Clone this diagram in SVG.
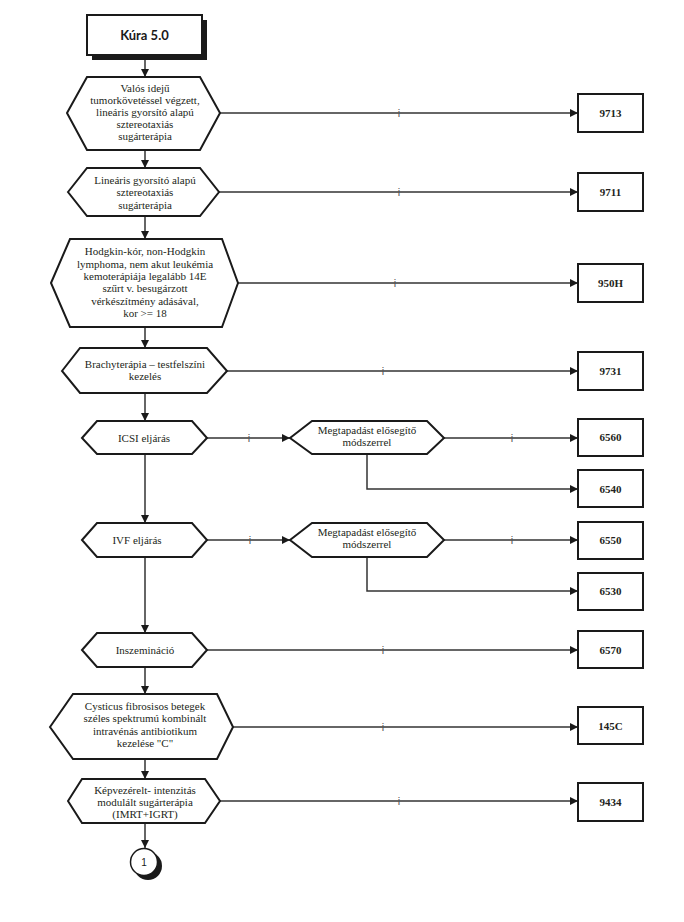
<svg xmlns="http://www.w3.org/2000/svg" width="684" height="922" viewBox="0 0 684 922">
<defs>
<marker id="arr" viewBox="0 0 10 10" refX="10" refY="5" markerWidth="9" markerHeight="8" markerUnits="userSpaceOnUse" orient="auto">
<path d="M0,0 L10,5 L0,10 z" fill="#1a1a1a"/>
</marker>
</defs>
<style>
.hex{fill:#fff;stroke:#1a1a1a;stroke-width:2;stroke-linejoin:miter}
.box{fill:#fff;stroke:#1a1a1a;stroke-width:2}
.t{font-family:"Liberation Serif","Times New Roman",serif;font-size:11px;fill:#231f20;text-anchor:middle}
.b{font-family:"Liberation Serif","Times New Roman",serif;font-size:11px;font-weight:bold;fill:#231f20;text-anchor:middle}
.c{fill:none;stroke:#333;stroke-width:1.5}
.i{font-family:"Liberation Sans",Arial,sans-serif;font-size:11px;fill:#555;text-anchor:middle}
</style>
<rect width="684" height="922" fill="#fff"/>

<g id="connectors">
<path class="c" d="M145,55 V77" marker-end="url(#arr)"/>
<path class="c" d="M145,150 V168" marker-end="url(#arr)"/>
<path class="c" d="M145,216 V239" marker-end="url(#arr)"/>
<path class="c" d="M145,327 V348" marker-end="url(#arr)"/>
<path class="c" d="M145,393 V421" marker-end="url(#arr)"/>
<path class="c" d="M145,454 V523" marker-end="url(#arr)"/>
<path class="c" d="M145,557 V633" marker-end="url(#arr)"/>
<path class="c" d="M145,667 V694" marker-end="url(#arr)"/>
<path class="c" d="M145,759 V779" marker-end="url(#arr)"/>
<path class="c" d="M145,823 V848" marker-end="url(#arr)"/>

<path class="c" d="M220,113 H578" marker-end="url(#arr)"/>
<path class="c" d="M219,192 H578" marker-end="url(#arr)"/>
<path class="c" d="M238,283 H578" marker-end="url(#arr)"/>
<path class="c" d="M227,371 H578" marker-end="url(#arr)"/>
<path class="c" d="M207,438 H290" marker-end="url(#arr)"/>
<path class="c" d="M444,438 H578" marker-end="url(#arr)"/>
<path class="c" d="M367,454 V489 H578" marker-end="url(#arr)"/>
<path class="c" d="M207,540 H290" marker-end="url(#arr)"/>
<path class="c" d="M444,540 H578" marker-end="url(#arr)"/>
<path class="c" d="M367,557 V591 H578" marker-end="url(#arr)"/>
<path class="c" d="M207,650 H578" marker-end="url(#arr)"/>
<path class="c" d="M233,727 H578" marker-end="url(#arr)"/>
<path class="c" d="M220,801 H578" marker-end="url(#arr)"/>

<text class="i" x="399" y="117">i</text>
<text class="i" x="399" y="196">i</text>
<text class="i" x="395" y="287">i</text>
<text class="i" x="383" y="375">i</text>
<text class="i" x="249" y="442">i</text>
<text class="i" x="512" y="442">i</text>
<text class="i" x="250" y="544">i</text>
<text class="i" x="512" y="544">i</text>
<text class="i" x="383" y="654">i</text>
<text class="i" x="383" y="731">i</text>
<text class="i" x="399" y="805">i</text>
</g>

<g id="start">
<rect x="92" y="20" width="115" height="40" fill="#1a1a1a"/>
<rect x="87" y="15" width="115" height="40" fill="#fff" stroke="#1a1a1a" stroke-width="2"/>
<text x="144.5" y="40" font-family="Lato,'Open Sans',sans-serif" font-size="13" font-weight="bold" text-anchor="middle" fill="#1a1a1a">Kúra 5.0</text>
</g>

<g id="n1">
<path class="hex" d="M67,113 L87,77 L200,77 L220,113 L200,150 L87,150 Z"/>
<text class="t" x="145" y="92">Valós idejű</text>
<text class="t" x="145" y="104">tumorkövetéssel végzett,</text>
<text class="t" x="145" y="116">lineáris gyorsító alapú</text>
<text class="t" x="145" y="128">sztereotaxiás</text>
<text class="t" x="145" y="140">sugárterápia</text>
</g>
<g id="n2">
<path class="hex" d="M68,192 L87,168 L200,168 L219,192 L200,216 L87,216 Z"/>
<text class="t" x="145" y="184">Lineáris gyorsító alapú</text>
<text class="t" x="145" y="196">sztereotaxiás</text>
<text class="t" x="145" y="209">sugárterápia</text>
</g>
<g id="n3">
<path class="hex" d="M51,283 L70,239 L222,239 L238,283 L222,327 L70,327 Z"/>
<text class="t" x="145" y="255">Hodgkin-kór, non-Hodgkin</text>
<text class="t" x="145" y="268">lymphoma, nem akut leukémia</text>
<text class="t" x="145" y="280">kemoterápiája legalább 14E</text>
<text class="t" x="145" y="292">szűrt v. besugárzott</text>
<text class="t" x="145" y="305">vérkészítmény adásával,</text>
<text class="t" x="145" y="317">kor &gt;= 18</text>
</g>
<g id="n4">
<path class="hex" d="M62,371 L80,348 L207,348 L227,371 L207,393 L80,393 Z"/>
<text class="t" x="145" y="368">Brachyterápia – testfelszíni</text>
<text class="t" x="145" y="380">kezelés</text>
</g>
<g id="n5">
<path class="hex" d="M82,438 L97,421 L192,421 L207,438 L192,454 L97,454 Z"/>
<text class="t" x="144" y="442">ICSI eljárás</text>
</g>
<g id="n6">
<path class="hex" d="M290,438 L312,421 L427,421 L444,438 L427,454 L312,454 Z"/>
<text class="t" x="367" y="434">Megtapadást elősegítő</text>
<text class="t" x="367" y="446">módszerrel</text>
</g>
<g id="n7">
<path class="hex" d="M82,540 L97,523 L192,523 L207,540 L192,557 L97,557 Z"/>
<text class="t" x="137" y="544">IVF eljárás</text>
</g>
<g id="n8">
<path class="hex" d="M290,540 L312,523 L427,523 L444,540 L427,557 L312,557 Z"/>
<text class="t" x="367" y="536">Megtapadást elősegítő</text>
<text class="t" x="367" y="548">módszerrel</text>
</g>
<g id="n9">
<path class="hex" d="M82,650 L97,633 L192,633 L207,650 L192,667 L97,667 Z"/>
<text class="t" x="145" y="654">Inszemináció</text>
</g>
<g id="n10">
<path class="hex" d="M50,727 L73,694 L217,694 L233,727 L217,759 L73,759 Z"/>
<text class="t" x="145" y="710">Cysticus fibrosisos betegek</text>
<text class="t" x="145" y="722">széles spektrumú kombinált</text>
<text class="t" x="145" y="735">intravénás antibiotikum</text>
<text class="t" x="145" y="747">kezelése "C"</text>
</g>
<g id="n11">
<path class="hex" d="M68,801 L82,779 L205,779 L220,801 L205,823 L82,823 Z"/>
<text class="t" x="145" y="794">Képvezérelt- intenzitás</text>
<text class="t" x="145" y="806">modulált sugárterápia</text>
<text class="t" x="145" y="818">(IMRT+IGRT)</text>
</g>

<g id="b9713"><rect class="box" x="578" y="94" width="65" height="38"/><text class="b" x="610.5" y="117">9713</text></g>
<g id="b9711"><rect class="box" x="578" y="173" width="65" height="38"/><text class="b" x="610.5" y="196">9711</text></g>
<g id="b950H"><rect class="box" x="578" y="264" width="65" height="38"/><text class="b" x="610.5" y="287">950H</text></g>
<g id="b9731"><rect class="box" x="578" y="352" width="65" height="38"/><text class="b" x="610.5" y="375">9731</text></g>
<g id="b6560"><rect class="box" x="578" y="419" width="65" height="37"/><text class="b" x="610.5" y="441">6560</text></g>
<g id="b6540"><rect class="box" x="578" y="470" width="65" height="37"/><text class="b" x="610.5" y="493">6540</text></g>
<g id="b6550"><rect class="box" x="578" y="522" width="65" height="37"/><text class="b" x="610.5" y="544">6550</text></g>
<g id="b6530"><rect class="box" x="578" y="573" width="65" height="37"/><text class="b" x="610.5" y="595">6530</text></g>
<g id="b6570"><rect class="box" x="578" y="631" width="65" height="37"/><text class="b" x="610.5" y="654">6570</text></g>
<g id="b145C"><rect class="box" x="578" y="707" width="65" height="37"/><text class="b" x="610.5" y="730">145C</text></g>
<g id="b9434"><rect class="box" x="578" y="783" width="65" height="38"/><text class="b" x="610.5" y="806">9434</text></g>

<g id="end">
<circle cx="148" cy="866" r="14" fill="#1a1a1a"/>
<circle cx="144" cy="862" r="13.5" fill="#fff" stroke="#1a1a1a" stroke-width="1.5"/>
<text x="144" y="866" font-family="'Liberation Sans',Arial,sans-serif" font-size="10" text-anchor="middle" fill="#1a1a1a">1</text>
</g>
</svg>
